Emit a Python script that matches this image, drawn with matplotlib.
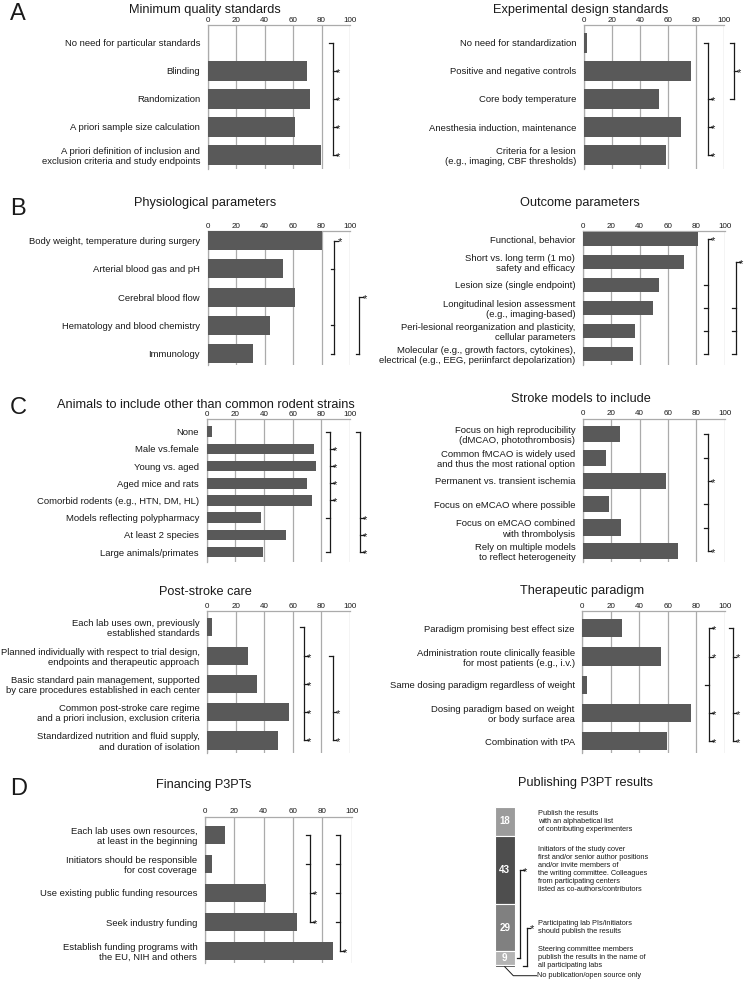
import matplotlib
matplotlib.use('Agg')
import matplotlib.pyplot as plt

plt.rcParams['font.family'] = ['Liberation Sans', 'DejaVu Sans']

W, H = 746, 981

# ---------------- DATA ----------------
minq_title = "Minimum quality standards"
minq_labels = ["No need for particular standards", "Blinding", "Randomization",
               "A priori sample size calculation",
               "A priori definition of inclusion and\nexclusion criteria and study endpoints"]
minq_values = [0, 69.5, 72, 61, 79.5]

exp_title = "Experimental design standards"
exp_labels = ["No need for standardization", "Positive and negative controls",
              "Core body temperature", "Anesthesia induction, maintenance",
              "Criteria for a lesion\n(e.g., imaging, CBF thresholds)"]
exp_values = [2, 76.5, 53.5, 69, 59]

phys_title = "Physiological parameters"
phys_labels = ["Body weight, temperature during surgery", "Arterial blood gas and pH",
               "Cerebral blood flow", "Hematology and blood chemistry", "Immunology"]
phys_values = [80, 53, 61, 44, 32]

out_title = "Outcome parameters"
out_labels = ["Functional, behavior", "Short vs. long term (1 mo)\nsafety and efficacy",
              "Lesion size (single endpoint)",
              "Longitudinal lesion assessment\n(e.g., imaging-based)",
              "Peri-lesional reorganization and plasticity,\ncellular parameters",
              "Molecular (e.g., growth factors, cytokines),\nelectrical (e.g., EEG, periinfarct depolarization)"]
out_values = [81, 71, 53.5, 49.5, 36.5, 35.5]

anim_title = "Animals to include other than common rodent strains"
anim_labels = ["None", "Male vs.female", "Young vs. aged", "Aged mice and rats",
               "Comorbid rodents (e.g., HTN, DM, HL)", "Models reflecting polypharmacy",
               "At least 2 species", "Large animals/primates"]
anim_values = [4, 75, 76, 70, 73.5, 38, 55, 39.5]

model_title = "Stroke models to include"
model_labels = ["Focus on high reproducibility\n(dMCAO, photothrombosis)",
                "Common fMCAO is widely used\nand thus the most rational option",
                "Permanent vs. transient ischemia", "Focus on eMCAO where possible",
                "Focus on eMCAO combined\nwith thrombolysis",
                "Rely on multiple models\nto reflect heterogeneity"]
model_values = [26, 16, 58.5, 18, 26.5, 67]

care_title = "Post-stroke care"
care_labels = ["Each lab uses own, previously\nestablished standards",
               "Planned individually with respect to trial design,\nendpoints and therapeutic approach",
               "Basic standard pain management, supported\nby care procedures established in each center",
               "Common post-stroke care regime\nand a priori inclusion, exclusion criteria",
               "Standardized nutrition and fluid supply,\nand duration of isolation"]
care_values = [3.5, 28.5, 34.5, 57, 49.5]

ther_title = "Therapeutic paradigm"
ther_labels = ["Paradigm promising best effect size",
               "Administration route clinically feasible\nfor most patients (e.g., i.v.)",
               "Same dosing paradigm regardless of weight",
               "Dosing paradigm based on weight\nor body surface area",
               "Combination with tPA"]
ther_values = [28, 55.5, 3.5, 76, 59.5]

fin_title = "Financing P3PTs"
fin_labels = ["Each lab uses own resources,\nat least in the beginning",
              "Initiators should be responsible\nfor cost coverage",
              "Use existing public funding resources", "Seek industry funding",
              "Establish funding programs with\nthe EU, NIH and others"]
fin_values = [13.5, 5, 41.5, 63, 87]

pub_title = "Publishing P3PT results"
pub_values = [18, 43, 29, 9, 1]
pub_shown = ["18", "43", "29", "9", ""]
pub_labels = ["Publish the results\nwith an alphabetical list\nof contributing experimenters",
              "Initiators of the study cover\nfirst and/or senior author positions\nand/or invite members of\nthe writing committee. Colleagues\nfrom participating centers\nlisted as co-authors/contributors",
              "Participating lab PIs/initiators\nshould publish the results",
              "Steering committee members\npublish the results in the name of\nall participating labs",
              "No publication/open source only"]
pub_colors = ["#9c9c9c", "#4e4e4e", "#808080", "#b4b4b4", "#555555"]

# significance brackets: (x position in % units, {row: 'S' star / 'L' plain tick})
minq_br = [(88, {0: 'L', 1: 'S', 2: 'S', 3: 'S', 4: 'S'})]
exp_br = [(88.6, {0: 'L', 2: 'S', 3: 'S', 4: 'S'}), (107, {0: 'L', 1: 'S', 2: 'L'})]
phys_br = [(89, {0: 'S', 1: 'L', 3: 'L', 4: 'L'}), (106.5, {2: 'S', 4: 'L'})]
out_br = [(88, {0: 'S', 2: 'L', 3: 'L', 4: 'L', 5: 'L'}), (108, {1: 'S', 3: 'L', 4: 'L', 5: 'L'})]
anim_br = [(86, {0: 'L', 1: 'S', 2: 'S', 3: 'S', 4: 'S', 5: 'L', 7: 'L'}),
           (107, {0: 'L', 5: 'S', 6: 'S', 7: 'S'})]
model_br = [(88, {0: 'L', 1: 'L', 2: 'S', 3: 'L', 4: 'L', 5: 'S'})]
care_br = [(67.8, {0: 'L', 1: 'S', 2: 'S', 3: 'S', 4: 'S'}), (88, {1: 'L', 3: 'S', 4: 'S'})]
ther_br = [(89, {0: 'S', 1: 'S', 2: 'L', 3: 'S', 4: 'S'}), (105.6, {0: 'L', 1: 'S', 3: 'S', 4: 'S'})]
fin_br = [(71.6, {0: 'L', 1: 'L', 2: 'S', 3: 'S'}), (92, {0: 'L', 1: 'L', 2: 'L', 3: 'L', 4: 'S'})]
pub_br = [(0.77, {1: 'S', 3: 'L'}), (1.1, {2: 'S', 4: 'L'})]

# ---------------- STYLE ----------------
BAR = "#595959"
GRID = "#ababab"
INK = "#1a1a1a"
LABEL_FS = 6.8
TICK_FS = 5.8
TITLE_FS = 9.2
STAR_FS = 8

fig = plt.figure(figsize=(W / 100, H / 100), dpi=100)


def px_axes(x0, x1, top, bottom):
    return fig.add_axes([x0 / W, 1 - bottom / H, (x1 - x0) / W, (bottom - top) / H])


def star(ax, x, y):
    ax.annotate('*', xy=(x, y), xytext=(-0.3, -3.6), textcoords='offset points',
                ha='left', va='baseline', fontsize=STAR_FS, color=INK,
                annotation_clip=False)


def bracket(ax, x, marks, d, ypos=None):
    yy = (lambda r: r) if ypos is None else (lambda r: ypos[r])
    rows = sorted(marks)
    ax.plot([x, x], [yy(rows[0]), yy(rows[-1])], color=INK, lw=0.9, clip_on=False,
            solid_capstyle='projecting')
    for r, kind in marks.items():
        if kind == 'S':
            ax.plot([x, x + d], [yy(r)] * 2, color=INK, lw=0.9, clip_on=False)
            star(ax, x + d, yy(r))
        else:
            ax.plot([x - d, x], [yy(r)] * 2, color=INK, lw=0.9, clip_on=False)


def panel(geom, labels, values, title, title_xy, brackets, bar_h):
    x0, x1, T, B, c0, s = geom
    ax = px_axes(x0, x1, T, B)
    n = len(values)
    ax.barh(range(n), values, height=bar_h, color=BAR, zorder=3)
    ax.set_xlim(0, 100)
    ax.set_ylim((B - c0) / s, (T - c0) / s)
    ax.xaxis.tick_top()
    ax.set_xticks(range(0, 101, 20))
    ax.tick_params(axis='x', length=0, pad=1.0, labelsize=TICK_FS, labelcolor=INK)
    ax.set_yticks(range(n))
    ax.set_yticklabels(labels, fontsize=LABEL_FS, color=INK, linespacing=1.15)
    ax.tick_params(axis='y', length=0, pad=5.5)
    ax.grid(axis='x', color=GRID, lw=0.9)
    ax.set_axisbelow(True)
    for k in ('right', 'bottom'):
        ax.spines[k].set_visible(False)
    for k in ('top', 'left'):
        ax.spines[k].set_color(GRID)
        ax.spines[k].set_linewidth(0.9)
    d = 3.6 / ((x1 - x0) / 100)
    for bx, marks in brackets:
        bracket(ax, bx, marks, d)
    fig.text(title_xy[0] / W, 1 - title_xy[1] / H, title, ha='center', va='center',
             fontsize=TITLE_FS, color=INK)
    return ax


panel((207.7, 350, 25, 169, 43, 28), minq_labels, minq_values, minq_title, (205, 9.5), minq_br, 0.68)
panel((583.7, 724, 25, 169, 43, 28), exp_labels, exp_values, exp_title, (581, 9.5), exp_br, 0.68)
panel((207.7, 350, 231, 365, 240.5, 28.3), phys_labels, phys_values, phys_title, (205.5, 203.3), phys_br, 0.67)
panel((583, 724.7, 231, 365, 239, 23), out_labels, out_values, out_title, (580, 203.3), out_br, 0.65)
panel((206.7, 350, 419, 561.7, 431.7, 17.2), anim_labels, anim_values, anim_title, (206, 404.5), anim_br, 0.62)
panel((583, 724.7, 418.7, 561.7, 434.3, 23.3), model_labels, model_values, model_title, (581.3, 399.3), model_br, 0.69)
panel((207.3, 350, 611, 753.3, 627.3, 28.3), care_labels, care_values, care_title, (205, 591.7), care_br, 0.64)
panel((582.3, 724.7, 611, 753.3, 628.3, 28.2), ther_labels, ther_values, ther_title, (582.5, 590.7), ther_br, 0.64)
panel((205, 351.7, 816.7, 963.3, 835, 29), fin_labels, fin_values, fin_title, (203.7, 785), fin_br, 0.62)

# ---- Publishing: stacked bar ----
axp = px_axes(494.7, 514.7, 806.7, 966.7)
axp.set_xlim(-0.5, 0.5)
axp.set_ylim(100, 0)
axp.axis('off')
cum = 0
centers = []
for v, c, t in zip(pub_values, pub_colors, pub_shown):
    axp.bar(0, v, bottom=cum, width=1, color=c, edgecolor='white', linewidth=0.8)
    centers.append(cum + v / 2)
    if t:
        axp.text(0, cum + v / 2, t, ha='center', va='center', color='white',
                 fontsize=7, fontweight='bold')
    cum += v
lab_x = (538 - 504.7) / 20
for i, lab in enumerate(pub_labels[:4]):
    axp.text(lab_x, centers[i], lab, ha='left', va='center', fontsize=5.3,
             linespacing=1.2, color=INK, clip_on=False)
low_y = cum + (975.7 - 966.7) / 160 * 100
axp.plot([0, 0.43, 1.6], [cum, low_y, low_y], color=INK, lw=0.7, clip_on=False)
axp.text(lab_x - 0.05, low_y, pub_labels[4], ha='left', va='center', fontsize=5.3,
         color=INK, clip_on=False)
for bx, marks in pub_br:
    bracket(axp, bx, marks, 0.17, ypos=centers)
fig.text(586 / W, 1 - 783.3 / H, pub_title, ha='center', va='center', fontsize=TITLE_FS, color=INK)

# panel letters
for letter, y in [("A", 13.5), ("B", 209), ("C", 408), ("D", 789)]:
    fig.text(10 / W, 1 - y / H, letter, ha='left', va='center', fontsize=17, color=INK)

fig.savefig("out.png", dpi=100, facecolor='white')
